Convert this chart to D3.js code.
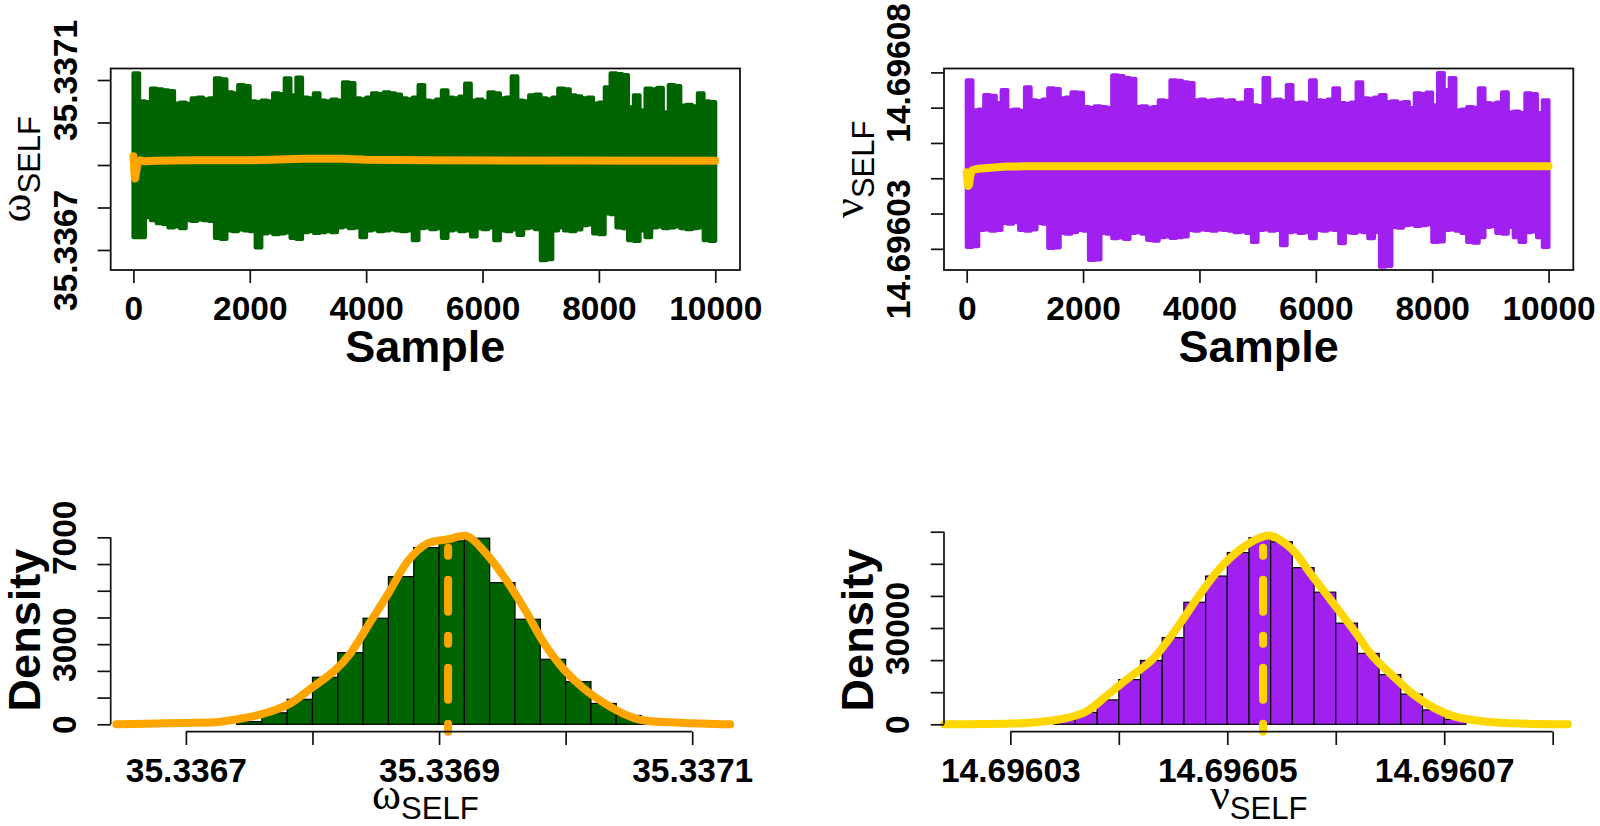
<!DOCTYPE html>
<html>
<head>
<meta charset="utf-8">
<script src="https://cdn.jsdelivr.net/npm/d3@7/dist/d3.min.js"></script>
<style>
html,body{margin:0;padding:0;background:#fff;}
svg{display:block;}
</style>
</head>
<body>
<svg id="chart" width="1600" height="826"></svg>
<script>
// ================= DATA =================
// MCMC trace envelopes: max / min of the chain in consecutive blocks of 100 samples
const traceBinSize = 100;
const omegaTraceUpper = [35.337116,35.337050,35.337048,35.337080,35.337078,35.337076,35.337074,35.337045,35.337047,35.337044,
 35.337057,35.337059,35.337055,35.337057,35.337104,35.337102,35.337071,35.337069,35.337088,35.337086,
 35.337050,35.337048,35.337052,35.337050,35.337069,35.337067,35.337104,35.337064,35.337106,35.337059,
 35.337057,35.337069,35.337052,35.337050,35.337054,35.337052,35.337095,35.337093,35.337057,35.337055,
 35.337059,35.337069,35.337067,35.337071,35.337069,35.337066,35.337057,35.337055,35.337059,35.337088,
 35.337052,35.337050,35.337054,35.337076,35.337059,35.337057,35.337061,35.337092,35.337052,35.337054,
 35.337050,35.337071,35.337069,35.337057,35.337059,35.337109,35.337052,35.337050,35.337064,35.337066,
 35.337057,35.337055,35.337059,35.337080,35.337078,35.337064,35.337062,35.337057,35.337059,35.337045,
 35.337047,35.337083,35.337116,35.337114,35.337112,35.337036,35.337064,35.337029,35.337080,35.337078,
 35.337082,35.337024,35.337088,35.337086,35.337040,35.337042,35.337038,35.337069,35.337050,35.337048];
const omegaTraceLower = [35.336730,35.336730,35.336777,35.336770,35.336763,35.336761,35.336753,35.336755,35.336751,35.336770,
 35.336768,35.336772,35.336770,35.336768,35.336728,35.336726,35.336746,35.336744,35.336748,35.336746,
 35.336744,35.336706,35.336739,35.336741,35.336737,35.336739,35.336741,35.336728,35.336726,35.336742,
 35.336744,35.336740,35.336742,35.336744,35.336742,35.336753,35.336755,35.336751,35.336753,35.336730,
 35.336746,35.336748,35.336744,35.336746,35.336748,35.336746,35.336744,35.336746,35.336723,35.336751,
 35.336753,35.336749,35.336751,35.336728,35.336746,35.336748,35.336744,35.336746,35.336732,35.336751,
 35.336749,35.336753,35.336723,35.336746,35.336744,35.336748,35.336735,35.336751,35.336753,35.336749,
 35.336676,35.336678,35.336746,35.336753,35.336746,35.336744,35.336748,35.336758,35.336760,35.336739,
 35.336737,35.336786,35.336784,35.336753,35.336751,35.336723,35.336721,35.336746,35.336730,35.336753,
 35.336755,35.336751,35.336753,35.336755,35.336751,35.336749,35.336751,35.336753,35.336723,35.336721];
const nuTraceUpper = [14.6960778,14.6960693,14.6960695,14.6960736,14.6960734,14.6960713,14.6960750,14.6960693,14.6960695,14.6960691,
 14.6960758,14.6960721,14.6960719,14.6960723,14.6960755,14.6960753,14.6960727,14.6960729,14.6960744,14.6960742,
 14.6960702,14.6960700,14.6960704,14.6960702,14.6960700,14.6960792,14.6960790,14.6960784,14.6960782,14.6960702,
 14.6960704,14.6960700,14.6960702,14.6960721,14.6960719,14.6960778,14.6960776,14.6960772,14.6960770,14.6960721,
 14.6960723,14.6960719,14.6960721,14.6960723,14.6960719,14.6960721,14.6960713,14.6960715,14.6960750,14.6960707,
 14.6960705,14.6960784,14.6960721,14.6960723,14.6960719,14.6960764,14.6960713,14.6960715,14.6960711,14.6960778,
 14.6960721,14.6960719,14.6960723,14.6960755,14.6960713,14.6960711,14.6960715,14.6960772,14.6960727,14.6960725,
 14.6960729,14.6960736,14.6960716,14.6960718,14.6960714,14.6960716,14.6960699,14.6960741,14.6960739,14.6960743,
 14.6960707,14.6960798,14.6960750,14.6960784,14.6960693,14.6960695,14.6960702,14.6960700,14.6960755,14.6960713,
 14.6960711,14.6960715,14.6960744,14.6960687,14.6960689,14.6960685,14.6960741,14.6960739,14.6960685,14.6960721];
const nuTraceLower = [14.6960305,14.6960307,14.6960353,14.6960355,14.6960351,14.6960353,14.6960373,14.6960371,14.6960375,14.6960353,
 14.6960351,14.6960355,14.6960373,14.6960371,14.6960302,14.6960304,14.6960345,14.6960343,14.6960347,14.6960353,
 14.6960351,14.6960268,14.6960270,14.6960345,14.6960343,14.6960330,14.6960332,14.6960328,14.6960345,14.6960347,
 14.6960343,14.6960325,14.6960323,14.6960333,14.6960335,14.6960331,14.6960333,14.6960335,14.6960353,14.6960351,
 14.6960355,14.6960353,14.6960351,14.6960355,14.6960353,14.6960351,14.6960347,14.6960349,14.6960345,14.6960319,
 14.6960353,14.6960355,14.6960351,14.6960353,14.6960310,14.6960347,14.6960349,14.6960345,14.6960347,14.6960330,
 14.6960353,14.6960351,14.6960355,14.6960353,14.6960316,14.6960347,14.6960345,14.6960349,14.6960347,14.6960330,
 14.6960347,14.6960249,14.6960251,14.6960362,14.6960360,14.6960367,14.6960369,14.6960365,14.6960367,14.6960369,
 14.6960319,14.6960321,14.6960353,14.6960355,14.6960351,14.6960345,14.6960319,14.6960317,14.6960333,14.6960362,
 14.6960364,14.6960345,14.6960343,14.6960362,14.6960333,14.6960319,14.6960347,14.6960349,14.6960333,14.6960305];

// running (ergodic) means
const omegaRunSample = [0,10,20,30,50,80,120,200,400,1000,2000,2900,3300,3600,4000,5000,10000];
const omegaRunMean = [35.3369205,35.3368993,35.3368734,35.3368687,35.3368875,35.3369064,35.3369111,35.3369087,35.3369099,
 35.3369111,35.3369111,35.3369146,35.3369146,35.3369146,35.3369122,35.3369111,35.3369100];
const nuRunSample = [0,10,25,40,60,100,200,400,700,1000,10000];
const nuRunMean = [14.6960517,14.6960495,14.6960478,14.6960481,14.6960506,14.6960523,14.6960527,14.6960530,14.6960533,14.6960534,14.6960534];

// histograms (density scale)
const omegaBreaks = [35.33674,35.33676,35.33678,35.33680,35.33682,35.33684,35.33686,35.33688,35.33690,
 35.33692,35.33694,35.33696,35.33698,35.33700,35.33702,35.33704,35.33706,35.33708];
const omegaHistDensity = [100,430,936,1760,2682,3970,5528,6614,6865,6966,5303,3933,2434,1596,780,330,40];
const nuBreaks = [14.696034,14.696036,14.696038,14.696040,14.696042,14.696044,14.696046,14.696048,14.696050,14.696052,
 14.696054,14.696056,14.696058,14.696060,14.696062,14.696064,14.696066,14.696068,14.696070,14.696072];
const nuHistDensity = [1300,3700,7600,13918,19887,27018,38014,46183,53503,58121,56864,48790,41156,31511,22086,15489,9425,4492,1570];

// kernel density curves
const omegaKdeX = [35.336645,35.336668,35.336699,35.336726,35.336745,35.336760,35.336772,35.336783,35.336799,35.336818,
 35.336830,35.336845,35.336860,35.336876,35.336891,35.336907,35.336922,35.336937,35.336953,35.336968,
 35.336983,35.336999,35.337014,35.337030,35.337045,35.337060,35.337091,35.337130];
const omegaKdeY = [0,20,50,90,225,380,560,800,1348,2033,2658,3781,4904,6151,6777,6926,7050,6402,5403,4279,
 3033,2033,1348,809,412,161,60,0];
const nuKdeX = [14.6960239,14.6960318,14.6960351,14.6960370,14.6960388,14.6960407,14.6960431,14.6960455,14.6960474,
 14.6960493,14.6960511,14.6960530,14.6960540,14.6960559,14.6960578,14.6960597,14.6960616,14.6960634,14.6960653,
 14.6960672,14.6960691,14.6960710,14.6960739,14.6960776,14.6960814];
const nuKdeY = [0,503,1885,3990,8680,13920,20200,30670,40090,48480,54230,58130,58750,54770,46380,38020,29630,21240,
 14960,9210,5030,2390,820,190,0];

const omegaMean = 35.33690715;
const nuMean = 14.6960533;

// axes
const sampleTicks = [0,2000,4000,6000,8000,10000];
const sampleLim = [-390, 10425];
const omegaTraceLim = [35.3366529, 35.3371271];
const nuTraceLim = [14.6960240, 14.6960811];
const omegaTicks = [35.3367,35.3368,35.3369,35.3370,35.3371];
const omegaTraceTickLabels = ['35.3367','','','','35.3371'];
const omegaHistTickLabels = ['35.3367','','35.3369','','35.3371'];
const nuTicks = [14.69603,14.69604,14.69605,14.69606,14.69607,14.69608];
const nuTraceTickLabels = ['14.69603','','','','','14.69608'];
const nuHistTickLabels = ['14.69603','','14.69605','','14.69607',''];
const omegaDensTicks = [0,1000,2000,3000,4000,5000,6000,7000];
const omegaDensTickLabels = ['0','','','3000','','','','7000'];
const nuDensTicks = [0,10000,20000,30000,40000,50000,60000];
const nuDensTickLabels = ['0','','','30000','','',''];
const omegaHistXLim = [35.33664059, 35.33713776];
const nuHistXLim = [14.6960238844, 14.6960819];
const omegaHistYLim = [-277, 7330];
const nuHistYLim = [-2305, 61000];

// ================= DRAWING =================
const svg = d3.select('#chart');
const FONT = "'Liberation Sans', Arial, Helvetica, sans-serif";
const GREEK = "'Liberation Serif', 'DejaVu Serif', serif";
const AX = '#111';
const TICKFONT = `bold 33.5px ${FONT}`;

const panels = {
  tl: {l:110.7, r:740, t:68.5, b:270},
  tr: {l:944, r:1573.3, t:68.5, b:270},
  bl: {l:110.7, r:740, t:528.5, b:731.7},
  br: {l:944, r:1573.3, t:528.5, b:731.7}
};

function styleAxis(g){
  g.select('.domain').remove();
  g.selectAll('.tick line').attr('stroke', AX).attr('stroke-width', 1.7);
  g.selectAll('.tick text').attr('fill', '#000').style('font', TICKFONT);
}

function greekLabel(x, y, rotate, letter){
  const t = svg.append('text')
    .attr('transform', `translate(${x},${y})` + (rotate ? ' rotate(-90)' : ''))
    .attr('text-anchor', 'middle').attr('fill', '#000');
  t.append('tspan').text(letter).style('font', `44px ${GREEK}`);
  t.append('tspan').attr('dy', 10.5).text('SELF').style('font', `31px ${FONT}`);
}

function drawTrace(p, upper, lower, runS, runM, lim, ticks, labels, col, meanCol, letter){
  const x = d3.scaleLinear().domain(sampleLim).range([p.l, p.r]);
  const y = d3.scaleLinear().domain(lim).range([p.b, p.t]);
  const pts = upper.map((u, i) => ({s: i * traceBinSize, hi: u, lo: lower[i]}));
  pts.push({s: upper.length * traceBinSize, hi: upper[upper.length - 1], lo: lower[lower.length - 1]});
  svg.append('path').datum(pts)
    .attr('d', d3.area().x(d => x(d.s)).y0(d => y(d.lo)).y1(d => y(d.hi)).curve(d3.curveStepAfter))
    .attr('fill', col).attr('stroke', col).attr('stroke-width', 4).attr('stroke-linejoin', 'round');
  svg.append('path').datum(runS.map((s, i) => [s, runM[i]]))
    .attr('d', d3.line().x(d => x(d[0])).y(d => y(d[1])))
    .attr('fill', 'none').attr('stroke', meanCol).attr('stroke-width', 8)
    .attr('stroke-linecap', 'round').attr('stroke-linejoin', 'round');
  svg.append('rect').attr('x', p.l).attr('y', p.t).attr('width', p.r - p.l).attr('height', p.b - p.t)
    .attr('fill', 'none').attr('stroke', AX).attr('stroke-width', 1.8);
  const gx = svg.append('g').attr('transform', `translate(0,${p.b})`)
    .call(d3.axisBottom(x).tickValues(sampleTicks).tickSize(13).tickFormat(d3.format('d')));
  styleAxis(gx);
  gx.selectAll('.tick text').attr('y', 50).attr('dy', 0);
  const gy = svg.append('g').attr('transform', `translate(${p.l},0)`)
    .call(d3.axisLeft(y).tickValues(ticks).tickSize(13).tickFormat((d, i) => labels[i]));
  styleAxis(gy);
  gy.selectAll('.tick text').attr('x', 0).attr('dy', 0).attr('text-anchor', 'middle')
    .attr('transform', 'translate(-33.7,0) rotate(-90)');
  svg.append('text').attr('x', (p.l + p.r) / 2).attr('y', p.b + 92).attr('text-anchor', 'middle')
    .style('font', `bold 45px ${FONT}`).text('Sample');
  greekLabel(p.l - 81, (p.t + p.b) / 2, true, letter);
}

function drawHist(p, breaks, dens, kx, ky, mean, xlim, ylim, xticks, xlabels, yticks, ylabels, fill, lineCol, letter){
  const x = d3.scaleLinear().domain(xlim).range([p.l, p.r]);
  const y = d3.scaleLinear().domain(ylim).range([p.b, p.t]);
  svg.append('g').selectAll('rect').data(dens).join('rect')
    .attr('x', (d, i) => x(breaks[i]))
    .attr('width', (d, i) => x(breaks[i + 1]) - x(breaks[i]))
    .attr('y', d => y(d)).attr('height', d => y(0) - y(d))
    .attr('fill', fill).attr('stroke', '#000').attr('stroke-width', 1.2);
  svg.append('path').datum(kx.map((v, i) => [v, ky[i]]))
    .attr('d', d3.line().x(d => x(d[0])).y(d => y(d[1])).curve(d3.curveCatmullRom.alpha(0.5)))
    .attr('fill', 'none').attr('stroke', lineCol).attr('stroke-width', 8)
    .attr('stroke-linecap', 'round').attr('stroke-linejoin', 'round');
  svg.append('line').attr('x1', x(mean)).attr('x2', x(mean)).attr('y1', p.b).attr('y2', p.t)
    .attr('stroke', lineCol).attr('stroke-width', 8).attr('stroke-linecap', 'round')
    .attr('stroke-dasharray', '8,24,32,24');
  // x axis
  svg.append('line').attr('x1', x(xticks[0])).attr('x2', x(xticks[xticks.length - 1]))
    .attr('y1', p.b).attr('y2', p.b).attr('stroke', AX).attr('stroke-width', 1.7);
  const gx = svg.append('g').attr('transform', `translate(0,${p.b})`)
    .call(d3.axisBottom(x).tickValues(xticks).tickSize(13.3).tickFormat((d, i) => xlabels[i]));
  styleAxis(gx);
  gx.selectAll('.tick text').attr('y', 50).attr('dy', 0);
  // y axis
  svg.append('line').attr('x1', p.l).attr('x2', p.l)
    .attr('y1', y(yticks[0])).attr('y2', y(yticks[yticks.length - 1])).attr('stroke', AX).attr('stroke-width', 1.7);
  const gy = svg.append('g').attr('transform', `translate(${p.l},0)`)
    .call(d3.axisLeft(y).tickValues(yticks).tickSize(13.3).tickFormat((d, i) => ylabels[i]));
  styleAxis(gy);
  gy.selectAll('.tick text').attr('x', 0).attr('dy', 0).attr('text-anchor', 'middle')
    .attr('transform', 'translate(-34.7,0) rotate(-90)');
  svg.append('text').attr('transform', `translate(${p.l - 70.7},${(p.t + p.b) / 2}) rotate(-90)`)
    .attr('text-anchor', 'middle').style('font', `bold 45px ${FONT}`).text('Density');
  greekLabel((p.l + p.r) / 2, p.b + 77, false, letter);
}

drawTrace(panels.tl, omegaTraceUpper, omegaTraceLower, omegaRunSample, omegaRunMean, omegaTraceLim,
  omegaTicks, omegaTraceTickLabels, '#006400', '#FFA500', '\u03C9');
drawTrace(panels.tr, nuTraceUpper, nuTraceLower, nuRunSample, nuRunMean, nuTraceLim,
  nuTicks, nuTraceTickLabels, '#A020F0', '#FFD700', '\u03BD');
drawHist(panels.bl, omegaBreaks, omegaHistDensity, omegaKdeX, omegaKdeY, omegaMean, omegaHistXLim, omegaHistYLim,
  omegaTicks, omegaHistTickLabels, omegaDensTicks, omegaDensTickLabels, '#006400', '#FFA500', '\u03C9');
drawHist(panels.br, nuBreaks, nuHistDensity, nuKdeX, nuKdeY, nuMean, nuHistXLim, nuHistYLim,
  nuTicks, nuHistTickLabels, nuDensTicks, nuDensTickLabels, '#A020F0', '#FFD700', '\u03BD');
</script>
</body>
</html>
